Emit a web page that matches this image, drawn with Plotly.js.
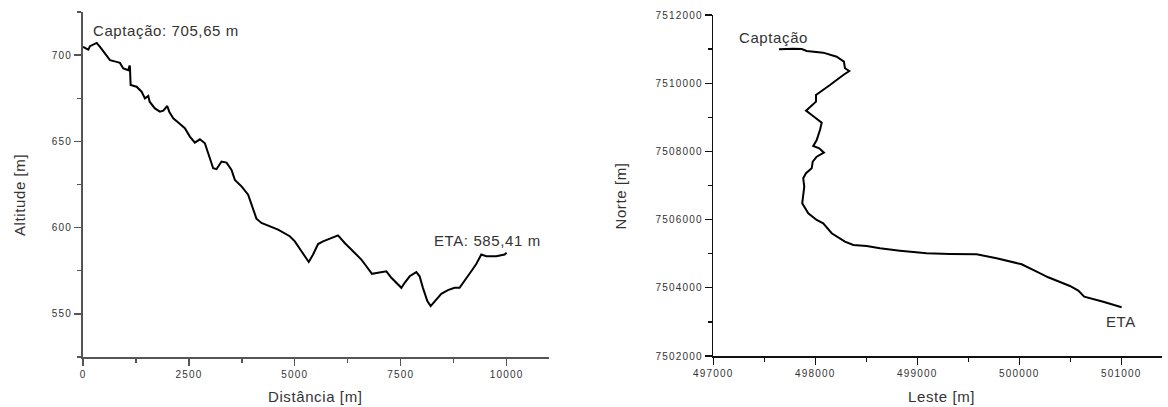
<!DOCTYPE html>
<html>
<head>
<meta charset="utf-8">
<script src="https://cdn.plot.ly/plotly-3.0.1.min.js"></script>
<style>
html,body{margin:0;padding:0;background:#fff;}
.xtick text,.ytick text,.x2tick text,.y2tick text{letter-spacing:1.2px;}
.annotation-text{letter-spacing:0.6px;}
</style>
</head>
<body>
<div id="chart" style="width:1168px;height:407px;"></div>
<script>
// Perfil longitudinal
const distancia = [0, 125, 165, 323, 401, 519, 637, 794, 872, 951, 1069, 1100, 1108, 1124, 1265, 1384, 1462, 1541, 1573, 1697, 1816, 1895, 1989, 2036, 2130, 2248, 2405, 2523, 2641, 2759, 2877, 2955, 3073, 3152, 3270, 3388, 3506, 3585, 3742, 3898, 3977, 4094, 4212, 4605, 4881, 5000, 5157, 5329, 5431, 5549, 5667, 5824, 6020, 6178, 6374, 6571, 6689, 6822, 6963, 7161, 7279, 7397, 7515, 7593, 7711, 7868, 7946, 8024, 8128, 8206, 8300, 8457, 8614, 8771, 8889, 9007, 9165, 9283, 9401, 9519, 9755, 9951, 10000];
const altitude  = [704.8, 703.2, 705.2, 707.1, 704.8, 700.9, 697.1, 696.1, 695.5, 692.3, 691.3, 694.0, 693.2, 682.7, 681.7, 678.8, 674.9, 676.3, 673.0, 669.1, 667.2, 667.8, 670.5, 667.2, 663.4, 660.9, 657.6, 652.8, 649.3, 651.2, 648.9, 643.1, 634.4, 633.9, 638.3, 637.7, 633.5, 627.7, 623.9, 619.1, 613.3, 605.2, 602.7, 598.8, 595.0, 592.0, 586.3, 580.1, 584.4, 590.5, 592.0, 593.4, 595.5, 591.1, 586.3, 581.5, 577.6, 573.2, 573.8, 574.7, 570.9, 568.0, 565.1, 568.0, 571.8, 574.2, 571.8, 565.1, 557.4, 554.5, 557.4, 561.6, 563.8, 565.1, 565.1, 569.0, 574.7, 578.9, 584.4, 583.4, 583.4, 584.4, 585.4];

// Traçado em planta
const leste = [497644, 497784, 497867, 497916, 498078, 498210, 498281, 498291, 498333, 498275, 498144, 498046, 498007, 498007, 497948, 497909, 497965, 498063, 498046, 498014, 497980, 498039, 498085, 498014, 497975, 497965, 497909, 497882, 497892, 497882, 497872, 497931, 498014, 498078, 498161, 498291, 498373, 498504, 498634, 498830, 499092, 499320, 499582, 499778, 500024, 500171, 500284, 500497, 500579, 500637, 500824, 501004];
const norte = [7510996, 7511013, 7511000, 7510946, 7510896, 7510778, 7510632, 7510438, 7510359, 7510242, 7509948, 7509752, 7509655, 7509459, 7509312, 7509195, 7509068, 7508843, 7508629, 7508335, 7508159, 7508092, 7507963, 7507845, 7507699, 7507505, 7507359, 7507212, 7506966, 7506672, 7506478, 7506185, 7505989, 7505892, 7505599, 7505352, 7505256, 7505226, 7505159, 7505089, 7505012, 7504992, 7504983, 7504866, 7504690, 7504473, 7504308, 7504053, 7503916, 7503739, 7503592, 7503428];

const W = 1168, H = 407;
const px = v => v / W;
const py = v => 1 - v / H;
const FONT = '"Liberation Sans", Arial, sans-serif';
const TXT = '#333333';

const traces = [
  {x: distancia, y: altitude, type: 'scatter', mode: 'lines', xaxis: 'x', yaxis: 'y',
   line: {color: '#000', width: 2}, hoverinfo: 'skip'},
  {x: leste, y: norte, type: 'scatter', mode: 'lines', xaxis: 'x2', yaxis: 'y2',
   line: {color: '#000', width: 2}, hoverinfo: 'skip'}
];

function ax(extra, col, lw) {
  return Object.assign({
    showgrid: false, zeroline: false, showline: true, linecolor: col, linewidth: lw,
    ticks: 'outside', ticklen: 7, tickwidth: 1.3, tickcolor: col,
    tickfont: {family: FONT, size: 10, color: TXT}, tickformat: 'd',
    fixedrange: true, automargin: false
  }, extra);
}

const layout = {
  width: W, height: H,
  margin: {l: 0, r: 0, t: 0, b: 0},
  paper_bgcolor: '#fff', plot_bgcolor: '#fff',
  showlegend: false,
  font: {family: FONT, color: TXT},
  xaxis: ax({domain: [px(83), px(549)], range: [0, 11000], tick0: 0, dtick: 2500, anchor: 'y',
    minor: {ticks: 'outside', ticklen: 4, tick0: 0, dtick: 1250, tickcolor: '#555', tickwidth: 1.3}}, '#555', 2),
  yaxis: ax({domain: [1 - 357 / H, 1 - 12 / H], range: [525, 725], tick0: 0, dtick: 50, anchor: 'x',
    minor: {ticks: 'outside', ticklen: 4, tick0: 0, dtick: 25, tickcolor: '#555', tickwidth: 1.3}}, '#555', 2),
  xaxis2: ax({domain: [px(713.3), px(1162)], range: [497000, 501400], tick0: 0, dtick: 1000, anchor: 'y2',
    minor: {ticks: 'outside', ticklen: 4, tick0: 0, dtick: 500, tickcolor: '#111', tickwidth: 1.3}}, '#111', 1.5),
  yaxis2: ax({domain: [1 - 356 / H, 1 - 15 / H], range: [7502000, 7512000], tick0: 0, dtick: 2000, anchor: 'x2',
    minor: {ticks: 'outside', ticklen: 4, tick0: 0, dtick: 1000, tickcolor: '#111', tickwidth: 1.3}}, '#111', 1.5),
  annotations: [
    {text: 'Captação: 705,65 m', x: px(91), y: py(30), xanchor: 'left', yanchor: 'middle'},
    {text: 'ETA: 585,41 m', x: px(432), y: py(241), xanchor: 'left', yanchor: 'middle'},
    {text: 'Captação', x: px(737), y: py(37), xanchor: 'left', yanchor: 'middle'},
    {text: 'ETA', x: px(1104), y: py(321), xanchor: 'left', yanchor: 'middle'},
    {text: 'Altitude [m]', x: px(19), y: py(195), xanchor: 'center', yanchor: 'middle', textangle: -90},
    {text: 'Distância [m]', x: px(315), y: py(396.5), xanchor: 'center', yanchor: 'middle'},
    {text: 'Norte [m]', x: px(619.5), y: py(196), xanchor: 'center', yanchor: 'middle', textangle: -90},
    {text: 'Leste [m]', x: px(941), y: py(396.5), xanchor: 'center', yanchor: 'middle'}
  ].map(a => Object.assign({xref: 'paper', yref: 'paper', showarrow: false,
    font: {family: FONT, size: 15, color: TXT}}, a))
};

Plotly.newPlot('chart', traces, layout, {displayModeBar: false, staticPlot: true});
</script>
</body>
</html>
